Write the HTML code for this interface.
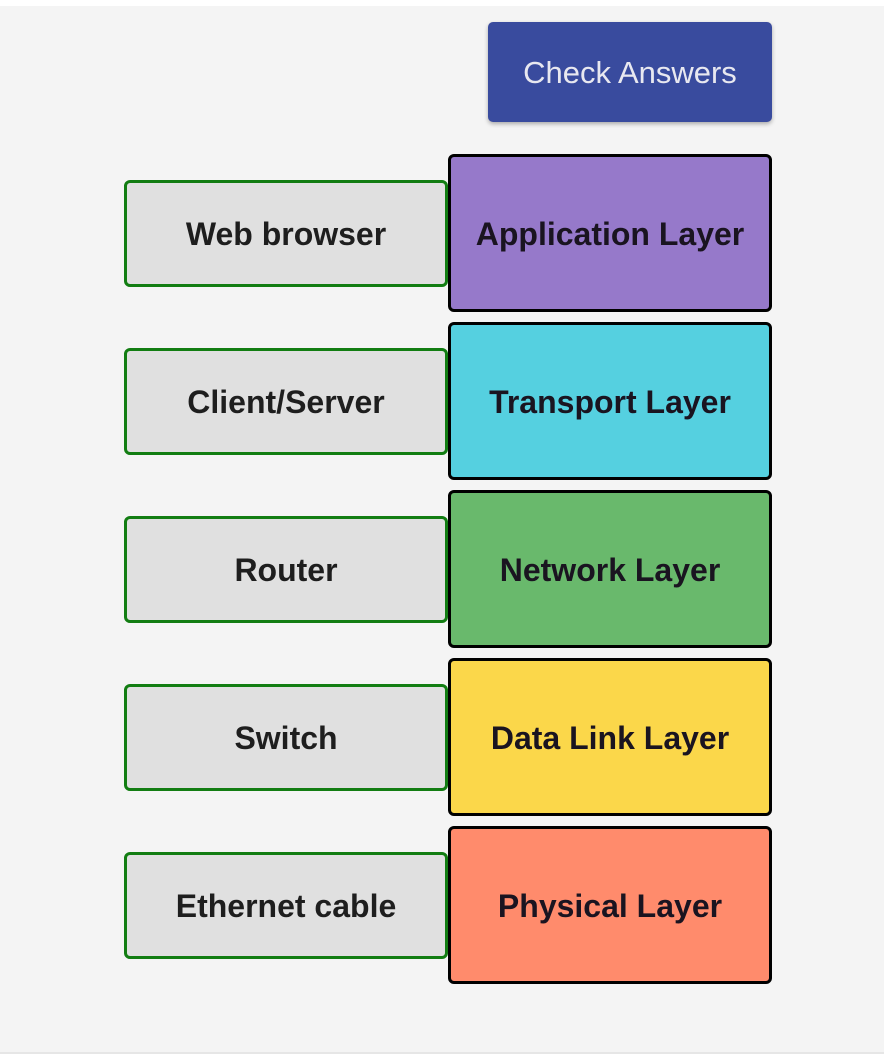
<!DOCTYPE html>
<html><head><style>
body{margin:0;width:884px;height:1058px;background:#fff;font-family:"Liberation Sans",sans-serif;position:relative;overflow:hidden}
.bg{position:absolute;left:0;top:6px;width:884px;height:1046px;background:#f4f4f4;border-bottom:2px solid #e6e6e6}
.btn{position:absolute;left:488px;top:22px;width:284px;height:100px;background:#394b9e;border-radius:5px;box-shadow:0 2px 4px rgba(0,0,0,.3);color:#e8e8f0;font-size:31px;display:flex;align-items:center;justify-content:center;padding-top:1px;box-sizing:border-box}
.l{position:absolute;left:124px;width:318px;height:101px;border:3px solid #127d12;border-radius:6px;background:#e0e0e0;display:flex;align-items:center;justify-content:center;font-weight:bold;font-size:32px;color:#1e1e1e;padding-top:2px;box-sizing:content-box}
.r{position:absolute;left:448px;width:318px;height:152px;border:3px solid #000;border-radius:6px;display:flex;align-items:center;justify-content:center;font-weight:bold;font-size:32px;color:#1a1420;padding-top:2px}
</style></head><body>
<div class="bg"></div>
<div class="btn">Check Answers</div>
<div class="l" style="top:180px;height:99px">Web browser</div>
<div class="l" style="top:348px;height:99px">Client/Server</div>
<div class="l" style="top:516px;height:99px">Router</div>
<div class="l" style="top:684px;height:99px">Switch</div>
<div class="l" style="top:852px;height:99px">Ethernet cable</div>
<div class="r" style="top:154px;height:150px;background:#9679ca">Application Layer</div>
<div class="r" style="top:322px;height:150px;background:#55d0e0">Transport Layer</div>
<div class="r" style="top:490px;height:150px;background:#69b96c">Network Layer</div>
<div class="r" style="top:658px;height:150px;background:#fbd74a">Data Link Layer</div>
<div class="r" style="top:826px;height:150px;background:#ff8b6c">Physical Layer</div>
</body></html>
